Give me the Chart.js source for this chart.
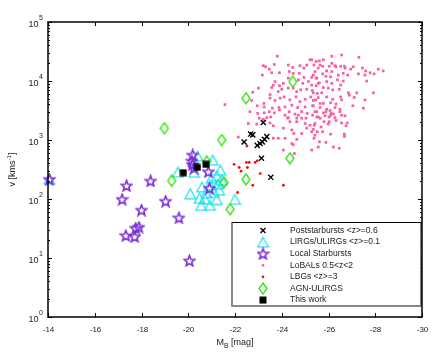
<!DOCTYPE html>
<html>
<head>
<meta charset="utf-8">
<script src="https://cdn.jsdelivr.net/npm/chart.js@4.4.1/dist/chart.umd.min.js"></script>
<style>
  html, body { margin: 0; padding: 0; background: #fff; }
</style>
</head>
<body>
<canvas id="chart" width="436" height="357"></canvas>
<script>
// names of the series, in legend order
const seriesNames = ['Poststarbursts <z>=0.6', 'LIRGs/ULIRGs <z>=0.1', 'Local Starbursts',
  'LoBALs 0.5<z<2', 'LBGs <z>=3', 'AGN-ULIRGS', 'This work'];

const xTicks = [-14, -16, -18, -20, -22, -24, -26, -28, -30];
const yTickExp = [0, 1, 2, 3, 4, 5];

// Poststarbursts
const postMag = [-23.21, -22.67, -22.76, -22.39, -23.36, -23.26, -23.17, -23.07, -22.95, -23.13, -23.53];
const postV = [1980, 1260, 1220, 925, 1140, 1030, 930, 870, 810, 490, 233];

// LIRGs / ULIRGs
const lirgMag = [-14.06, -19.56, -20.40, -21.05, -20.25, -21.37, -21.22, -21.00, -20.93, -20.59, -20.09,
  -20.48, -21.10, -21.32, -21.22, -22.00, -20.55, -20.93, -20.78, -21.44, -21.27, -20.72];
const lirgV = [216, 285, 536, 458, 284, 310, 245, 227, 173, 160, 123, 103, 129, 142, 98, 99, 78, 78, 125, 210, 180, 100];

// Local starbursts
const starMag = [-14.06, -17.36, -18.39, -17.17, -19.03, -18.00, -19.60, -17.33, -17.75, -17.89, -17.71,
  -20.05, -20.19, -20.16, -20.18, -20.25, -20.86, -20.91];
const starV = [216, 168, 202, 99, 92, 65, 48, 24, 32, 33.5, 23, 9, 557, 441, 384, 335, 290, 152];

// LoBALs (log10 of v)
const lobalMag = [-23.81, -23.31, -23.47, -23.68, -23.57, -23.17, -23.90, -24.28, -24.47, -24.32, -24.49, -24.75,
  -24.95, -25.07, -25.21, -25.47, -25.56, -25.35, -24.95, -24.71, -25.14, -25.47, -24.90, -25.28, -25.56, -23.71,
  -23.64, -24.07, -24.28, -23.90, -23.50, -23.85, -24.00, -24.28, -24.49, -24.64, -24.81, -25.07, -25.31, -25.52,
  -22.76, -22.71, -23.24, -23.50, -23.71, -23.93, -24.10, -24.35, -24.61, -24.78, -25.00, -25.24, -25.45, -25.64,
  -22.95, -23.25, -23.60, -23.88, -24.14, -24.43, -24.68, -25.00, -25.32, -22.64, -22.97, -23.25, -23.47, -23.68,
  -23.90, -24.14, -24.32, -24.57, -24.85, -25.09, -25.42, -23.04, -23.21, -23.53, -24.25, -24.64, -25.04, -25.50,
  -26.14, -26.56, -27.30, -25.28, -25.61, -25.78, -25.64, -25.75, -26.03, -26.32, -26.52, -26.68, -26.71, -26.95,
  -27.06, -27.45, -27.28, -27.56, -27.78, -27.95, -28.13, -28.34, -27.63, -25.92, -26.14, -25.42, -25.75, -25.89,
  -26.09, -26.42, -26.63, -26.82, -25.28, -25.50, -26.38, -26.63, -26.52, -25.61, -25.92, -26.14, -25.47, -25.78,
  -25.99, -26.18, -26.46, -25.35, -25.71, -26.85, -27.21, -27.92, -25.56, -25.92, -26.18, -26.52, -26.89, -27.10,
  -27.56, -25.35, -25.78, -26.09, -26.32, -26.56, -25.35, -25.64, -25.92, -26.28, -26.49, -27.04, -27.49, -25.50,
  -25.78, -26.06, -26.21, -26.56, -26.71, -25.32, -25.56, -26.03, -23.36, -22.57, -22.93, -23.50, -23.64, -24.28,
  -24.71, -24.85, -24.35, -24.64, -25.00, -25.21, -25.42, -24.07, -24.43, -24.52, -25.07, -25.28, -25.42, -24.85,
  -22.14, -23.64, -23.85, -24.14, -24.64, -24.43, -24.49, -24.07, -25.28, -25.56, -25.89, -26.11, -26.49, -25.64,
  -25.85, -26.09, -26.28, -25.81, -26.03, -26.32, -26.56, -26.80, -26.75, -25.39, -25.68, -25.99, -25.35, -25.52,
  -25.75, -26.09, -26.68, -26.68, -25.38, -25.61, -25.89, -26.21, -26.46, -21.57, -23.21, -23.00, -24.54, -27.59,
  -23.57, -24.78, -25.38, -26.14, -26.28];
const lobalLogV = [4.42, 4.24, 4.20, 4.28, 4.14, 4.10, 4.14, 4.27, 4.23, 4.16, 4.13, 4.13,
  4.22, 4.27, 4.36, 4.33, 4.22, 4.10, 4.06, 4.02, 3.99, 4.05, 3.96, 3.93, 3.96, 3.99,
  3.93, 3.96, 4.05, 3.92, 3.77, 3.82, 3.86, 3.88, 3.88, 3.82, 3.85, 3.86, 3.84, 3.79,
  3.81, 3.67, 3.62, 3.71, 3.67, 3.71, 3.73, 3.68, 3.73, 3.65, 3.69, 3.73, 3.68, 3.62,
  3.58, 3.56, 3.54, 3.55, 3.56, 3.59, 3.55, 3.56, 3.58, 3.48, 3.45, 3.46, 3.48, 3.46,
  3.51, 3.42, 3.48, 3.44, 3.48, 3.45, 3.48, 3.37, 3.35, 3.39, 3.37, 3.37, 3.37, 3.39,
  4.42, 4.44, 4.40, 4.36, 4.34, 4.36, 4.27, 4.25, 4.25, 4.24, 4.25, 4.25, 4.22, 4.20,
  4.24, 4.22, 4.12, 4.10, 4.14, 4.12, 4.20, 4.17, 4.00, 4.17, 4.16, 4.16, 4.12, 4.08,
  4.07, 4.10, 4.13, 4.10, 4.06, 4.05, 4.02, 4.00, 3.93, 3.97, 3.99, 3.96, 3.92, 3.89,
  3.88, 3.85, 3.86, 3.80, 3.80, 3.80, 3.80, 3.80, 3.72, 3.73, 3.69, 3.73, 3.76, 3.72,
  3.68, 3.67, 3.62, 3.63, 3.61, 3.68, 3.58, 3.55, 3.52, 3.55, 3.52, 3.58, 3.54, 3.48,
  3.46, 3.50, 3.44, 3.42, 3.41, 3.42, 3.39, 3.39, 3.38, 3.28, 3.27, 3.29, 3.24, 3.38,
  3.42, 3.37, 3.31, 3.31, 3.28, 3.25, 3.28, 3.20, 3.17, 3.11, 3.20, 3.14, 3.08, 3.11,
  3.05, 3.03, 3.03, 3.03, 3.01, 2.94, 2.92, 2.83, 2.83, 2.88, 3.48, 3.46, 3.48, 3.37,
  3.41, 3.42, 3.38, 3.31, 3.31, 3.33, 3.29, 3.29, 3.24, 3.25, 3.22, 3.27, 3.18, 3.14,
  3.14, 3.10, 3.10, 3.06, 3.03, 2.97, 2.96, 2.88, 2.86, 3.60, 4.26, 3.88, 2.77, 4.17,
  3.89, 4.26, 4.27, 4.30, 4.26];

// LBGs
const lbgMag = [-22.51, -21.96, -22.18, -22.26, -22.49, -22.61, -22.53, -22.86, -22.95, -23.08, -22.76, -22.11, -24.07];
const lbgV = [791, 387, 342, 296, 417, 417, 342, 417, 444, 270, 171, 129, 171];

// AGN-ULIRGs
const agnMag = [-18.98, -21.43, -22.47, -24.47, -24.35, -22.47, -21.53, -21.79, -19.29, -20.79];
const agnV = [1585, 1000, 5090, 9750, 490, 215, 190, 67, 204, 430];

// This work
const thisMag = [-19.79, -20.39, -20.76];
const thisV = [279, 344, 387];

const FONT = '"Liberation Sans", Arial, sans-serif';
const TXT = '#222';
const PINK = '#f7609f';

function pts(mags, vals) {
  return mags.map((m, i) => ({ x: m, y: vals[i] }));
}

// small canvases used as point markers
function makeMarker(w, h, draw) {
  const c = document.createElement('canvas');
  c.width = w; c.height = h;
  draw(c.getContext('2d'), w, h);
  return c;
}
const triMark = makeMarker(13, 12, (g) => {
  g.strokeStyle = '#1fe0f0'; g.lineWidth = 1.3;
  g.beginPath(); g.moveTo(6.5, 1.2); g.lineTo(11.8, 10.8); g.lineTo(1.2, 10.8); g.closePath(); g.stroke();
});
const starMark = makeMarker(13, 13, (g) => {
  g.strokeStyle = '#7a2ed8'; g.lineWidth = 1.6; g.lineJoin = 'miter';
  g.beginPath();
  for (let i = 0; i < 10; i++) {
    const r = i % 2 ? 2.4 : 5.6;
    const a = -Math.PI / 2 + i * Math.PI / 5;
    const px = 6.5 + r * Math.cos(a), py = 7 + r * Math.sin(a);
    i ? g.lineTo(px, py) : g.moveTo(px, py);
  }
  g.closePath(); g.stroke();
});
const diaMark = makeMarker(10, 13, (g) => {
  g.strokeStyle = '#2ee600'; g.lineWidth = 1.3;
  g.beginPath(); g.moveTo(5, 1); g.lineTo(9, 6.5); g.lineTo(5, 12); g.lineTo(1, 6.5); g.closePath(); g.stroke();
});
const sqMark = makeMarker(8, 8, (g) => {
  g.fillStyle = '#000'; g.fillRect(0.5, 0.5, 7, 7);
});

const datasets = [
  { label: seriesNames[0], data: pts(postMag, postV), pointStyle: 'crossRot', pointRadius: 3.6,
    borderColor: '#000', borderWidth: 1.4, order: 1 },
  { label: seriesNames[1], data: pts(lirgMag, lirgV), pointStyle: triMark, order: 4 },
  { label: seriesNames[2], data: pts(starMag, starV), pointStyle: starMark, order: 2 },
  { label: seriesNames[3], data: lobalMag.map((m, i) => ({ x: m, y: Math.pow(10, lobalLogV[i]) })),
    pointStyle: 'rect', pointRadius: 1.9, backgroundColor: PINK, borderWidth: 0, order: 6 },
  { label: seriesNames[4], data: pts(lbgMag, lbgV), pointStyle: 'circle', pointRadius: 1.4,
    backgroundColor: '#ee1010', borderWidth: 0, order: 5 },
  { label: seriesNames[5], data: pts(agnMag, agnV), pointStyle: diaMark, order: 3 },
  { label: seriesNames[6], data: pts(thisMag, thisV), pointStyle: sqMark, order: 0 }
];
datasets.forEach(d => { d.clip = false; });

function drawMarker(g, i, x, y) {
  g.save();
  if (i === 0) {
    g.strokeStyle = '#000'; g.lineWidth = 1.4;
    g.beginPath(); g.moveTo(x - 2.5, y - 2.5); g.lineTo(x + 2.5, y + 2.5);
    g.moveTo(x + 2.5, y - 2.5); g.lineTo(x - 2.5, y + 2.5); g.stroke();
  } else if (i === 3) {
    g.fillStyle = PINK; g.fillRect(x - 1.2, y - 1.2, 2.5, 2.5);
  } else if (i === 4) {
    g.fillStyle = '#ee1010'; g.beginPath(); g.arc(x, y, 1.3, 0, Math.PI * 2); g.fill();
  } else {
    const img = [null, triMark, starMark, null, null, diaMark, sqMark][i];
    g.drawImage(img, x - img.width / 2, y - img.height / 2);
  }
  g.restore();
}

const framePlugin = {
  id: 'frame',
  afterDraw(chart) {
    const g = chart.ctx;
    const a = chart.chartArea;
    const xs = chart.scales.x, ys = chart.scales.y;
    g.save();
    // frame
    g.strokeStyle = '#000'; g.lineWidth = 1.5;
    g.strokeRect(a.left, a.top, a.right - a.left, a.bottom - a.top);
    // x ticks, inward top and bottom
    g.lineWidth = 1;
    g.fillStyle = TXT; g.font = '8px ' + FONT; g.textAlign = 'center'; g.textBaseline = 'alphabetic';
    xTicks.forEach(t => {
      const px = Math.round(xs.getPixelForValue(t)) + 0.5;
      g.beginPath(); g.moveTo(px, a.bottom); g.lineTo(px, a.bottom - 4);
      g.moveTo(px, a.top); g.lineTo(px, a.top + 4); g.stroke();
      g.fillText(String(t), px, 332);
    });
    // y ticks: decades and minor ticks, both sides
    yTickExp.forEach(e => {
      const py = Math.round(ys.getPixelForValue(Math.pow(10, e))) + 0.5;
      g.beginPath(); g.moveTo(a.left, py); g.lineTo(a.left + 4, py);
      g.moveTo(a.right, py); g.lineTo(a.right - 4, py); g.stroke();
      if (e < 5) {
        for (let k = 2; k < 10; k++) {
          const my = Math.round(ys.getPixelForValue(k * Math.pow(10, e))) + 0.5;
          g.beginPath(); g.moveTo(a.left, my); g.lineTo(a.left + 2, my);
          g.moveTo(a.right, my); g.lineTo(a.right - 2, my); g.stroke();
        }
      }
      g.textAlign = 'right'; g.font = '9px ' + FONT;
      g.fillText('10', 38.5, py + 4);
      g.textAlign = 'left'; g.font = '7px ' + FONT;
      g.fillText(String(e), 39, py - 2.5);
    });
    // x title
    g.font = '9px ' + FONT; g.textAlign = 'left';
    const wM = g.measureText('M').width;
    g.font = '7px ' + FONT;
    const wB = g.measureText('B').width;
    g.font = '9px ' + FONT;
    const wRest = g.measureText(' [mag]').width;
    let sx = (a.left + a.right) / 2 - (wM + wB + wRest) / 2;
    g.fillText('M', sx, 345);
    g.font = '7px ' + FONT; g.fillText('B', sx + wM, 347.5);
    g.font = '9px ' + FONT; g.fillText(' [mag]', sx + wM + wB, 345);
    // y title (rotated)
    g.save();
    g.translate(15, (a.top + a.bottom) / 2);
    g.rotate(-Math.PI / 2);
    const p1 = 'v [kms', p2 = '-1', p3 = ']';
    g.font = '9px ' + FONT; const w1 = g.measureText(p1).width, w3 = g.measureText(p3).width;
    g.font = '6px ' + FONT; const w2 = g.measureText(p2).width;
    let ty = -(w1 + w2 + w3) / 2;
    g.font = '9px ' + FONT; g.fillText(p1, ty, 0);
    g.font = '6px ' + FONT; g.fillText(p2, ty + w1, -4);
    g.font = '9px ' + FONT; g.fillText(p3, ty + w1 + w2, 0);
    g.restore();
    // legend box
    const lx = 232, ly = 222.5, lw = 189, lh = 83.5;
    g.fillStyle = '#fff'; g.fillRect(lx, ly, lw, lh);
    g.strokeStyle = '#000'; g.lineWidth = 1;
    g.strokeRect(lx, ly, lw, lh);
    g.strokeStyle = '#8a8a8a'; g.lineWidth = 1.5;
    g.beginPath(); g.moveTo(lx, ly); g.lineTo(lx, ly + lh); g.lineTo(lx + lw, ly + lh); g.stroke();
    g.font = '8.5px ' + FONT; g.textAlign = 'left'; g.textBaseline = 'middle'; g.fillStyle = TXT;
    seriesNames.forEach((name, i) => {
      const ry = 230.5 + i * 11.6;
      drawMarker(g, i, 263, ry);
      g.fillStyle = TXT;
      g.fillText(name, 290, ry);
    });
    g.restore();
  }
};

new Chart(document.getElementById('chart'), {
  type: 'scatter',
  data: { datasets },
  options: {
    responsive: false,
    animation: false,
    devicePixelRatio: 1,
    layout: { padding: { left: 48, right: 14, top: 22, bottom: 40 } },
    plugins: { legend: { display: false }, tooltip: { enabled: false } },
    scales: {
      x: { type: 'linear', min: -30, max: -14, reverse: true, display: false },
      y: { type: 'logarithmic', min: 1, max: 100000, display: false }
    }
  },
  plugins: [framePlugin]
});
</script>
</body>
</html>
